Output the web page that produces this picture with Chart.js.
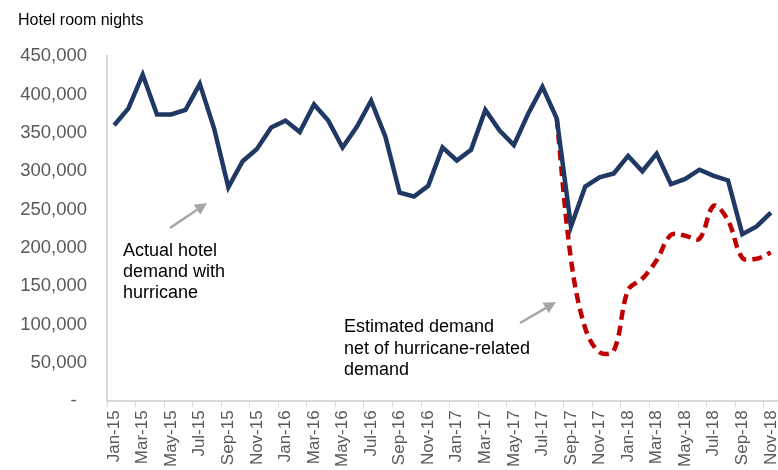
<!DOCTYPE html>
<html>
<head>
<meta charset="utf-8">
<script src="https://cdn.jsdelivr.net/npm/chart.js@4.4.1/dist/chart.umd.min.js"></script>
<style>
  html, body { margin: 0; padding: 0; background: #fff; overflow: hidden; }
  #wrap { width: 778px; height: 470px; }
</style>
</head>
<body>
<div id="wrap"><canvas id="chart" width="778" height="470"></canvas></div>
<script>
  // ── Data ──
  const months = [
    'Jan-15','Feb-15','Mar-15','Apr-15','May-15','Jun-15','Jul-15','Aug-15','Sep-15','Oct-15','Nov-15','Dec-15',
    'Jan-16','Feb-16','Mar-16','Apr-16','May-16','Jun-16','Jul-16','Aug-16','Sep-16','Oct-16','Nov-16','Dec-16',
    'Jan-17','Feb-17','Mar-17','Apr-17','May-17','Jun-17','Jul-17','Aug-17','Sep-17','Oct-17','Nov-17','Dec-17',
    'Jan-18','Feb-18','Mar-18','Apr-18','May-18','Jun-18','Jul-18','Aug-18','Sep-18','Oct-18','Nov-18'
  ];

  const actualDemand = [
    360000, 382000, 426000, 374000, 374000, 380000, 414000, 356000, 279000, 313000, 329000, 357000,
    366000, 351000, 387000, 366000, 331000, 358000, 392000, 345000, 272000, 267000, 281000, 331000,
    314000, 328000, 380000, 353000, 334000, 375000, 410000, 369000, 228000, 280000, 292000, 297000,
    320000, 300000, 323000, 283000, 290000, 302000, 294000, 288000, 218000, 228000, 246000
  ];

  // estimate only starts in Aug-17
  const netDemand = [
    null, null, null, null, null, null, null, null, null, null, null, null,
    null, null, null, null, null, null, null, null, null, null, null, null,
    null, null, null, null, null, null, null, 369000, 185000, 95000, 64000, 66000,
    145000, 160000, 184000, 217000, 216000, 212000, 255000, 236000, 187000, 186000, 194000
  ];

  const yTicks = [0, 50000, 100000, 150000, 200000, 250000, 300000, 350000, 400000, 450000];

  const titleText = 'Hotel room nights';
  const noteActual = ['Actual hotel', 'demand with', 'hurricane'];
  const noteNet = ['Estimated demand', 'net of hurricane-related', 'demand'];

  // ── Style ──
  const FONT = "'Liberation Sans', Arial, sans-serif";
  const NAVY = '#1f3864';
  const RED = '#c00000';
  const AXIS = '#d9d9d9';
  const TICK_TEXT = '#595959';
  const ARROW = '#a6a6a6';

  function drawArrow(ctx, x1, y1, x2, y2) {
    const ang = Math.atan2(y2 - y1, x2 - x1);
    const head = 12, half = 6;
    const bx = x2 - head * Math.cos(ang), by = y2 - head * Math.sin(ang);
    ctx.save();
    ctx.strokeStyle = ARROW;
    ctx.fillStyle = ARROW;
    ctx.lineWidth = 2.5;
    ctx.beginPath();
    ctx.moveTo(x1, y1);
    ctx.lineTo(bx, by);
    ctx.stroke();
    ctx.beginPath();
    ctx.moveTo(x2, y2);
    ctx.lineTo(bx + half * Math.sin(ang), by - half * Math.cos(ang));
    ctx.lineTo(bx - half * Math.sin(ang), by + half * Math.cos(ang));
    ctx.closePath();
    ctx.fill();
    ctx.restore();
  }

  function drawLines(ctx, lines, x, y, lh) {
    ctx.save();
    ctx.font = `18px ${FONT}`;
    ctx.fillStyle = '#000';
    ctx.textBaseline = 'alphabetic';
    lines.forEach((l, i) => ctx.fillText(l, x, y + i * lh));
    ctx.restore();
  }

  // annotations: text + grey arrows
  const notes = {
    id: 'notes',
    afterDatasetsDraw(chart) {
      const ctx = chart.ctx;
      drawArrow(ctx, 170, 228, 207, 203);
      drawLines(ctx, noteActual, 123, 256, 21);
      drawArrow(ctx, 520, 323, 556, 302);
      drawLines(ctx, noteNet, 344, 332, 21.5);
    }
  };

  new Chart(document.getElementById('chart'), {
    type: 'line',
    data: {
      labels: months,
      datasets: [
        {
          label: 'Actual hotel demand with hurricane',
          data: actualDemand,
          borderColor: NAVY,
          borderWidth: 4.5,
          pointRadius: 0,
          tension: 0,
          borderJoinStyle: 'miter',
        },
        {
          label: 'Estimated demand net of hurricane-related demand',
          data: netDemand,
          borderColor: RED,
          borderWidth: 4.5,
          borderDash: [10, 6],
          pointRadius: 0,
          tension: 0.35,
          spanGaps: false,
        }
      ]
    },
    options: {
      responsive: false,
      animation: false,
      layout: { padding: { left: 18, right: 0, top: 11, bottom: 0 } },
      plugins: {
        legend: { display: false },
        tooltip: { enabled: false },
        title: {
          display: true,
          text: titleText,
          align: 'start',
          color: '#000',
          font: { family: FONT, size: 16, weight: 'normal' },
          padding: { top: 0, bottom: 26 },
        },
      },
      scales: {
        x: {
          offset: true,
          border: { display: true, color: AXIS, width: 2 },
          grid: {
            offset: true,
            drawOnChartArea: false,
            drawTicks: true,
            tickLength: 6,
            color: c => (c.index % 2 === 0 ? AXIS : 'rgba(0,0,0,0)'),
          },
          ticks: {
            autoSkip: false,
            maxRotation: 90,
            minRotation: 90,
            padding: 3,
            color: TICK_TEXT,
            font: { family: FONT, size: 17 },
            callback: (v, i) => (i % 2 === 0 ? months[i] : ''),
          },
          afterFit: s => { s.paddingLeft = 0; s.paddingRight = 0; },
        },
        y: {
          min: yTicks[0],
          max: yTicks[yTicks.length - 1],
          border: { display: true, color: AXIS, width: 2 },
          grid: { display: false, drawTicks: false, tickLength: 0 },
          afterBuildTicks: axis => { axis.ticks = yTicks.map(v => ({ value: v })); },
          afterFit: s => { s.width = 89; },
          ticks: {
            padding: 20,
            color: TICK_TEXT,
            font: { family: FONT, size: 18.5 },
            callback: v => (v === 0 ? '-  ' : v.toLocaleString('en-US')),
          },
        },
      },
    },
    plugins: [notes],
  });
</script>
</body>
</html>
